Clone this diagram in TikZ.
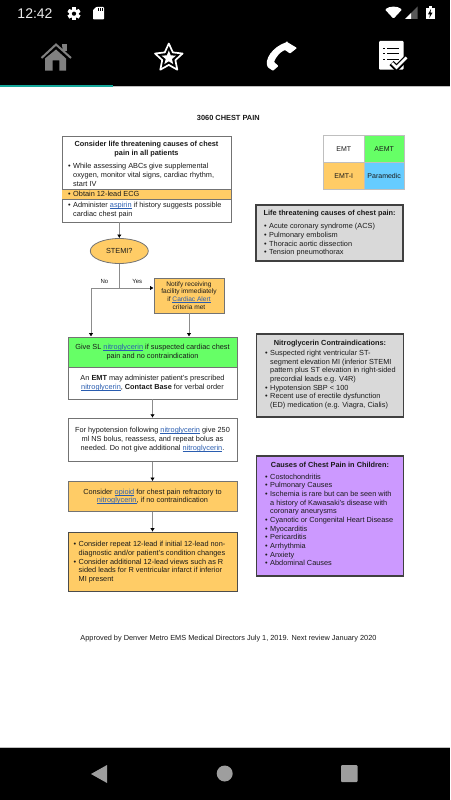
\documentclass[tikz,border=0pt]{standalone}
\usepackage{fontspec}
\setmainfont{Liberation Sans}
\usetikzlibrary{arrows.meta,shapes.geometric}
\definecolor{lk}{HTML}{2A5DB0}
\definecolor{og}{HTML}{FFCC66}
\definecolor{gn}{HTML}{66FF66}
\definecolor{bl}{HTML}{66CCFF}
\definecolor{pp}{HTML}{CC99FF}
\definecolor{gy}{HTML}{D9D9D9}
\definecolor{tl}{HTML}{14A79A}
\definecolor{ink}{HTML}{1A1A1A}
\newcommand\lk[1]{\textcolor{lk}{\setbox0=\hbox{#1}\rlap{\rule[-0.9pt]{\wd0}{0.4pt}}\box0}}
\newcommand\bu{\makebox[5pt][l]{\textbullet}}
\newcommand\ind{\hspace*{5pt}}
\newcommand\body{\fontsize{7.35}{8.65}\selectfont}
\tikzset{
 x=1pt,y=-1pt,
 flowbox/.style={draw=black!55,line width=0.8pt,inner sep=0,minimum width=#1},
 flowbox/.default=169pt,
 sidebox/.style={draw=black!75,line width=1.2pt,inner sep=0,minimum width=147pt},
 cell/.style={inner sep=0,minimum width=40.5pt,minimum height=27.2pt,font=\fontsize{7}{8}\selectfont,text=ink,draw=black!25,line width=0.4pt},
 tx/.style={inner sep=0,text=ink,font=\body,align=center},
 txl/.style={inner sep=0,text=ink,font=\body,align=left,anchor=west},
 lab/.style={inner sep=0,text=ink,font=\fontsize{6}{7}\selectfont},
 conn/.style={draw=black!45,line width=1pt},
 arr/.style={conn,-{Latex[length=3.5pt,width=4.5pt,black]}},
 navg/.style={fill=black!38,draw=none},
}
\begin{document}
\begin{tikzpicture}
\useasboundingbox (0,0) rectangle (450,800);
\fill[white] (0,0) rectangle (450,800);
% bars
\fill[black] (0,0) rectangle (450,86);
\fill[black!25] (0,86.2) rectangle (450,87.4);
\fill[tl] (0,85) rectangle (113,87.4);
\fill[black] (0,748) rectangle (450,800);
\fill[black!25] (0,747) rectangle (450,748);
% status bar
\node[inner sep=0,text=white!92!black,font=\fontsize{14}{14}\selectfont] (clock) at (35,14) {12:42};
\fill[white] (74,13.7) circle (4.9);
\foreach \a in {0,60,...,300}{\fill[white,rotate around={\a:(74,13.7)}] (72.3,7.3) rectangle (75.7,20.1);}
\fill[black] (74,13.7) circle (2.1);
\fill[white,rounded corners=0.8pt] (96,7) -- (104,7) -- (104,19.5) -- (93,19.5) -- (93,10) -- cycle;
\foreach \xx in {97.5,99.5,101.5}{\fill[black] (\xx,8.5) rectangle ++(0.9,3);}
\fill[white,rounded corners=1pt] (393.5,18.7) -- (385,9.5) .. controls (390,5.8) and (397,5.8) .. (402,9.5) -- cycle;
\fill[black!65] (405,19) -- (417.5,19) -- (417.5,6.5) -- cycle;
\fill[white] (405,19) -- (411,19) -- (411,13) -- cycle;
\fill[white] (426,8) rectangle (434.5,19.5);
\fill[white] (428.5,6) rectangle (432,8);
\fill[black] (431,9) -- (428,14.3) -- (430,14.3) -- (429.3,18) -- (432.5,12.7) -- (430.5,12.7) -- cycle;
% tabs
\fill[black!50] (56,49.5) -- (66,58.5) -- (66,70.5) -- (59.3,70.5) -- (59.3,60.5) -- (52.7,60.5) -- (52.7,70.5) -- (45,70.5) -- (45,58.5) -- cycle;
\fill[black!50] (62.3,44) rectangle (66.5,51);
\fill[black] (60.8,49) -- (62.3,50.5) -- (62.3,47) -- (60.8,46) -- cycle;
\draw[black!50,line width=2pt] (41.5,58) -- (56,44.5) -- (71,58);
\node[star,star points=5,star point ratio=2.1,minimum size=29pt,inner sep=0,draw=white,line width=1.7pt,line join=round] (tabstar) at (168.8,58) {};
\node[star,star points=5,star point ratio=2.3,minimum size=15pt,inner sep=0,fill=white] (tabstarin) at (168.8,58) {};
\fill[white,rounded corners=0.8pt] (287,42) -- (297,48) -- (290,53.5) -- (285,50) .. controls (280,52) and (276,57) .. (274,62) -- (278.5,66) -- (273,70.8) -- (268,67.5) .. controls (264,60) and (272,47) .. (287,42) -- cycle;
\fill[white,rounded corners=1pt] (379,41) rectangle (403.5,69.7);
\foreach \yy in {48.3,53.3,59.3}{\fill[black] (383,\yy-0.6) rectangle (385,\yy+0.6);\fill[black] (387,\yy-0.6) rectangle (399,\yy+0.6);}
\draw[black,line width=6pt,line join=miter] (391.5,63) -- (396.5,68) -- (406.5,58);
\draw[white,line width=2.8pt,line join=miter] (392,63) -- (396.5,67.5) -- (406.5,57.5);
% nav bar
\fill[navg] (107,765) -- (107,783) -- (91,774) -- cycle;
\fill[navg] (224.7,773.5) circle (8);
\fill[navg,rounded corners=1pt] (341,765) rectangle (357.5,782);
% title
\node[inner sep=0,text=ink,font=\fontsize{7.4}{8}\bfseries\selectfont] (title) at (228.3,118) {3060 CHEST PAIN};
% flow boxes
\node[flowbox,minimum height=86pt,fill=white] (b1) at (146.5,179) {};
\fill[og] (62.4,189) rectangle (230.6,199.5);
\draw[black!55,line width=0.6pt] (62,189) -- (231,189) (62,199.5) -- (231,199.5);
\node[tx] (b1t) at (146.5,149) {\textbf{Consider life threatening causes of chest}\\\textbf{pain in all patients}};
\node[txl] (b1a) at (68,175) {\bu While assessing ABCs give supplemental\\\ind oxygen, monitor vital signs, cardiac rhythm,\\\ind start IV};
\node[txl] (b1b) at (68,194.3) {\bu Obtain 12-lead ECG};
\node[txl] (b1c) at (68,210) {\bu Administer \lk{aspirin} if history suggests possible\\\ind cardiac chest pain};
\node[ellipse,draw=black!55,line width=0.8pt,fill=og,minimum width=58pt,minimum height=25pt,inner sep=0,font=\body,text=ink] (stemi) at (119.3,251) {STEMI?};
\node[flowbox=70pt,minimum height=35pt,fill=og,align=center,font=\fontsize{6.6}{7.8}\selectfont,text=ink] (notify) at (189,295.5) {Notify receiving\\facility immediately\\if \lk{Cardiac Alert}\\criteria met};
\node[flowbox,minimum height=30pt,fill=gn,align=center,font=\body,text=ink] (give) at (152.5,352) {Give SL \lk{nitroglycerin} if suspected cardiac chest\\pain and no contraindication};
\node[flowbox,minimum height=32pt,fill=white,align=center,font=\body,text=ink] (emt) at (152.5,383) {An \textbf{EMT} may administer patient’s prescribed\\\lk{nitroglycerin}, \textbf{Contact Base} for verbal order};
\node[flowbox,minimum height=43pt,fill=white,align=center,font=\body,text=ink] (hypo) at (152.5,439.7) {For hypotension following \lk{nitroglycerin} give 250\\ml NS bolus, reassess, and repeat bolus as\\needed. Do not give additional \lk{nitroglycerin}.};
\node[flowbox,minimum height=30pt,fill=og,align=center,font=\body,text=ink] (opioid) at (152.5,496.5) {Consider \lk{opioid} for chest pain refractory to\\\lk{nitroglycerin}, if no contraindication};
\node[flowbox,minimum height=59.5pt,fill=og,draw=black!70] (repeat) at (152.5,561.8) {};
\node[txl] (repeatt) at (73.5,562.3) {\bu Consider repeat 12-lead if initial 12-lead non-\\\ind diagnostic and/or patient’s condition changes\\\bu Consider additional 12-lead views such as R\\\ind sided leads for R ventricular infarct if inferior\\\ind MI present};
% connectors
\coordinate (j) at (119.3,288);
\coordinate (jl) at (91,288);
\draw[arr] (stemi.north |- b1.south) -- (stemi.north);
\draw[conn] (stemi.south) -- (j);
\draw[arr] (j) -- (notify.west |- j);
\draw[conn] (j) -- (jl);
\draw[arr] (jl) -- (jl |- give.north);
\draw[arr] (notify.south) -- (notify.south |- give.north);
\draw[arr] (emt.south) -- (hypo.north);
\draw[arr] (hypo.south) -- (opioid.north);
\draw[arr] (opioid.south) -- (repeat.north);
\node[lab] (no) at (104.5,281) {No};
\node[lab] (yes) at (137.3,281.5) {Yes};
% legend
\node[cell,fill=white] (c1) at (343.8,148.8) {EMT};
\node[cell,fill=gn] (c2) at (384.2,148.8) {AEMT};
\node[cell,fill=og] (c3) at (343.8,176) {EMT-I};
\node[cell,fill=bl] (c4) at (384.2,176) {Paramedic};
% side boxes
\node[sidebox,fill=gy,minimum height=56pt] (s1) at (329.5,233) {};
\node[txl] (s1t) at (263.5,213.6) {\textbf{Life threatening causes of chest pain:}};
\node[txl] (s1l) at (264,239.8) {\bu Acute coronary syndrome (ACS)\\\bu Pulmonary embolism\\\bu Thoracic aortic dissection\\\bu Tension pneumothorax};
\node[sidebox,fill=gy,minimum height=83pt] (s2) at (330,375.5) {};
\node[tx] (s2t) at (330,343.3) {\textbf{Nitroglycerin Contraindications:}};
\node[txl] (s2l) at (265,379.5) {\bu Suspected right ventricular ST-\\\ind segment elevation MI (inferior STEMI\\\ind pattern plus ST elevation in right-sided\\\ind precordial leads e.g. V4R)\\\bu Hypotension SBP < 100\\\bu Recent use of erectile dysfunction\\\ind (ED) medication (e.g. Viagra, Cialis)};
\node[sidebox,fill=pp,minimum height=120pt] (s3) at (330,516) {};
\node[tx] (s3t) at (330,464.5) {\textbf{Causes of Chest Pain in Children:}};
\node[txl] (s3l) at (265,519.8) {\bu Costochondritis\\\bu Pulmonary Causes\\\bu Ischemia is rare but can be seen with\\\ind a history of Kawasaki’s disease with\\\ind coronary aneurysms\\\bu Cyanotic or Congenital Heart Disease\\\bu Myocarditis\\\bu Pericarditis\\\bu Arrhythmia\\\bu Anxiety\\\bu Abdominal Causes};
\node[inner sep=0,text=ink,font=\body] (approved) at (228.5,639) {Approved by Denver Metro EMS Medical Directors July 1, 2019. Next review January 2020};
\end{tikzpicture}
\end{document}
